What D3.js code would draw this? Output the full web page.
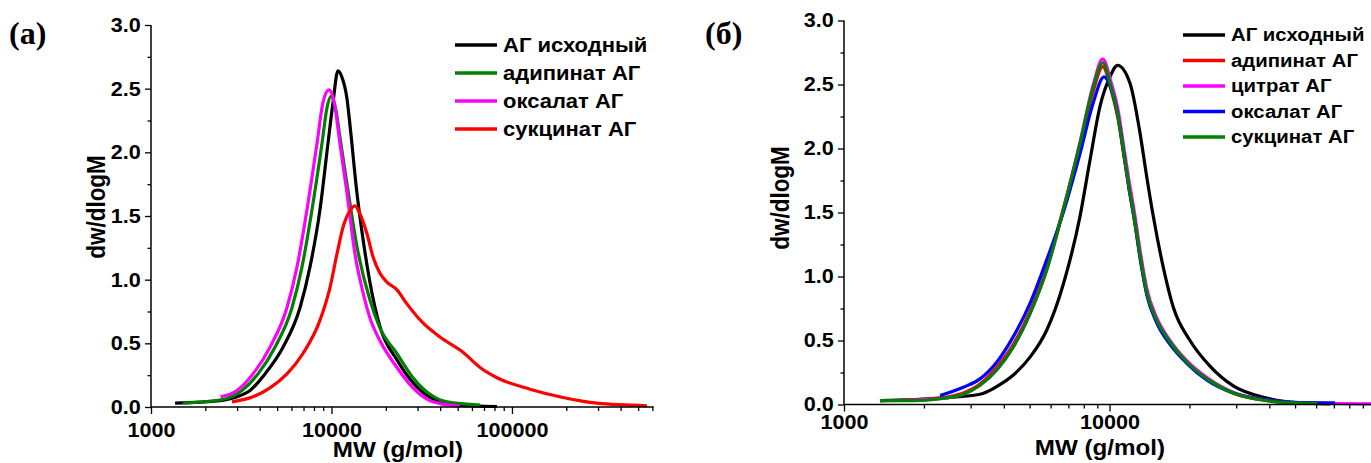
<!DOCTYPE html>
<html><head><meta charset="utf-8">
<script src="https://cdn.jsdelivr.net/npm/d3@7"></script>
<style>body{margin:0;background:#fff}svg{display:block}</style>
</head><body><svg id="c" width="1371" height="463"></svg>
<script>
// ---------- data ----------
const yTicks = [0, 0.5, 1.0, 1.5, 2.0, 2.5, 3.0];
const yMinor = [0.25, 0.75, 1.25, 1.75, 2.25, 2.75];
const xTicksA = [1000, 10000, 100000];
const xTicksB = [1000, 10000];
const legendA = ["АГ исходный", "адипинат АГ", "оксалат АГ", "сукцинат АГ"];
const legendB = ["АГ исходный", "адипинат АГ", "цитрат АГ", "оксалат АГ", "сукцинат АГ"];
const colorsA = ["#000000", "#008000", "#ff00ff", "#ff0000"];
const colorsB = ["#000000", "#ff0000", "#ff00ff", "#0000ff", "#008000"];

// panel (a): [MW, dw/dlogM]
const aInitial = [[1360,0.03],[2410,0.05],[3000,0.08],[3537,0.13],[4281,0.26],[5388,0.47],[6692,0.78],[7601,1.1],[8636,1.55],[9563,2.07],[10193,2.39],[10860,2.64],[11430,2.59],[12190,2.42],[12650,2.22],[13840,1.68],[14950,1.32],[16330,0.98],[18570,0.63],[23060,0.37],[28300,0.19],[35160,0.075],[49580,0.015],[82600,0.004]];
const aAdipinate = [[1500,0.03],[2410,0.055],[3192,0.13],[3915,0.26],[4864,0.47],[6041,0.78],[6864,1.1],[7798,1.55],[8859,2.07],[9441,2.35],[9935,2.44],[10590,2.33],[11140,2.12],[12190,1.75],[13840,1.26],[16330,0.84],[18570,0.62],[23060,0.42],[28300,0.23],[35160,0.1],[43650,0.04],[66530,0.015]];
const aOxalate = [[2430,0.08],[2995,0.13],[3674,0.26],[4564,0.47],[5667,0.78],[6442,1.1],[7316,1.55],[8315,2.07],[8970,2.39],[9687,2.49],[10330,2.4],[11140,2.07],[12190,1.68],[13500,1.2],[14950,0.9],[16330,0.7],[18570,0.52],[23060,0.31],[28300,0.15],[35160,0.05],[51520,0.005]];
const aSuccinate = [[2810,0.04],[3674,0.08],[4564,0.15],[5667,0.26],[6954,0.42],[8630,0.68],[9817,0.94],[10720,1.2],[11580,1.41],[12650,1.54],[13500,1.58],[14350,1.52],[15730,1.36],[16980,1.18],[18570,1.05],[20290,0.98],[23060,0.92],[26180,0.81],[32140,0.66],[39910,0.55],[53550,0.43],[66530,0.31],[82600,0.23],[125900,0.14],[191700,0.075],[295700,0.03],[559500,0.01]];

// panel (б)
const bInitial = [[1366,0.03],[2300,0.05],[3252,0.08],[3759,0.14],[4342,0.23],[5019,0.37],[5800,0.58],[6699,0.94],[7743,1.47],[8445,1.91],[9209,2.33],[10040,2.56],[10720,2.65],[11946,2.51],[13030,2.12],[13810,1.78],[14620,1.47],[15950,1.07],[17390,0.76],[20100,0.5],[23900,0.3],[29260,0.145],[39090,0.05],[52190,0.012],[67500,0.005]];
const bAdipinate = [[1366,0.03],[1824,0.035],[2300,0.05],[2814,0.09],[3252,0.16],[3759,0.29],[4342,0.47],[5019,0.73],[5800,1.07],[6699,1.53],[7743,2.03],[8690,2.45],[9428,2.64],[10130,2.46],[10770,2.23],[11340,1.94],[11840,1.69],[12370,1.46],[13140,1.11],[13840,0.86],[14970,0.66],[16900,0.48],[19580,0.33],[23290,0.2],[29190,0.09],[39190,0.03],[52190,0.01],[60450,0.008]];
const bCitrate = [[1500,0.03],[2300,0.045],[2814,0.08],[3252,0.15],[3759,0.27],[4342,0.45],[5019,0.71],[5800,1.05],[6699,1.52],[7743,2.05],[8690,2.5],[9428,2.70],[10130,2.52],[10770,2.3],[11340,2.0],[11840,1.75],[12370,1.52],[13140,1.16],[13840,0.9],[14970,0.69],[16900,0.5],[19580,0.34],[23290,0.21],[29190,0.095],[39190,0.035],[52190,0.012],[70000,0.008],[96600,0.005]];
const bOxalate = [[2300,0.07],[2814,0.135],[3252,0.2],[3759,0.33],[4342,0.53],[5019,0.79],[5800,1.13],[6699,1.5],[7743,1.96],[8690,2.36],[9535,2.56],[10130,2.47],[10770,2.25],[11340,1.95],[11840,1.69],[12370,1.46],[13140,1.1],[13840,0.85],[14970,0.65],[16900,0.47],[19580,0.32],[23290,0.19],[29190,0.09],[39190,0.035],[52190,0.015],[70700,0.012]];
const bSuccinate = [[1366,0.03],[1824,0.03],[2300,0.045],[2814,0.08],[3252,0.15],[3759,0.27],[4342,0.45],[5019,0.71],[5800,1.05],[6699,1.52],[7743,2.04],[8690,2.48],[9428,2.67],[10130,2.48],[10770,2.25],[11340,1.95],[11840,1.7],[12370,1.47],[13140,1.12],[13840,0.87],[14970,0.67],[16900,0.49],[19580,0.33],[23290,0.2],[29190,0.09],[39190,0.03],[52190,0.01],[60450,0.008]];

const seriesA = [aInitial, aAdipinate, aOxalate, aSuccinate];
const seriesB = [bInitial, bAdipinate, bCitrate, bOxalate, bSuccinate];

// ---------- drawing ----------
const svg = d3.select("#c");
const SANS = "'Liberation Sans', Arial, sans-serif";
const SERIF = "'Liberation Serif', 'Times New Roman', serif";

function minorTicks(domain) {
  const out = [];
  for (let e = 3; e <= 6; e++) for (let m = 2; m <= 9; m++) {
    const v = m * Math.pow(10, e);
    if (v > domain[0] && v <= domain[1]) out.push(v);
  }
  return out;
}

function styleText(sel, size) {
  sel.attr("font-family", SANS).attr("font-weight", "bold")
     .attr("font-size", size).attr("fill", "#000");
}

function panel(cfg) {
  const g = svg.append("g");
  const x = d3.scaleLog().domain(cfg.xDomain).range(cfg.xRange);
  const y = d3.scaleLinear().domain([0, 3]).range(cfg.yRange);
  const x0 = cfg.xRange[0], y0 = cfg.yRange[0];

  // curves
  const line = d3.line().x(d => x(d[0])).y(d => y(d[1])).curve(d3.curveMonotoneX);
  cfg.series.forEach((s, i) => {
    g.append("path").datum(s).attr("d", line)
      .attr("fill", "none").attr("stroke", cfg.colors[i])
      .attr("stroke-width", 3.2).attr("stroke-linejoin", "round").attr("stroke-linecap", "butt");
  });

  // y axis
  const ya = g.append("g").attr("transform", `translate(${x0},0)`)
    .call(d3.axisLeft(y).tickValues(yTicks).tickSize(6).tickPadding(3.5).tickFormat(d3.format(".1f")));
  g.append("g").attr("transform", `translate(${x0},0)`)
    .call(d3.axisLeft(y).tickValues(yMinor).tickSize(3.5).tickFormat(""))
    .select(".domain").remove();
  // x axis
  const xa = g.append("g").attr("transform", `translate(0,${y0})`)
    .call(d3.axisBottom(x).tickValues(cfg.xTicks).tickSize(7).tickPadding(cfg.xPad).tickFormat(d3.format("d")));
  g.append("g").attr("transform", `translate(0,${y0})`)
    .call(d3.axisBottom(x).tickValues(minorTicks(cfg.xDomain)).tickSize(4).tickFormat(""))
    .select(".domain").remove();

  g.selectAll(".domain").attr("stroke", "#000").attr("stroke-width", 1.5);
  g.selectAll(".tick line").attr("stroke", "#000").attr("stroke-width", 1.3);
  [ya, xa].forEach(a => {
    const t = a.selectAll("text");
    styleText(t, 20);
    t.attr("transform", "scale(1.08,1)");
  });
  ya.select(".domain").attr("d", `M0,${cfg.yRange[0]}V${cfg.yRange[1]}`);
  xa.select(".domain").attr("d", `M${cfg.xRange[0]},0H${cfg.xRange[1]}`);

  // axis titles
  const tx = g.append("text").text("MW (g/mol)")
    .attr("text-anchor", "middle")
    .attr("transform", `translate(${cfg.xTitle[0]},${cfg.xTitle[1]}) scale(1.1,1)`);
  styleText(tx, 22);
  const ty = g.append("text").text("dw/dlogM")
    .attr("text-anchor", "middle")
    .attr("transform", `translate(${cfg.yTitle[0]},${cfg.yTitle[1]}) scale(1.15,1) rotate(-90)`);
  styleText(ty, 22.5);

  // panel label
  g.append("text").text(cfg.label)
    .attr("x", cfg.labelPos[0]).attr("y", cfg.labelPos[1])
    .attr("font-family", SERIF).attr("font-weight", "bold").attr("font-size", 32).attr("fill", "#000");

  // legend
  const lg = g.append("g");
  cfg.legend.forEach((name, i) => {
    const yy = cfg.legPos[1] + i * cfg.legStep;
    lg.append("line").attr("x1", cfg.legPos[0]).attr("x2", cfg.legPos[0] + 42)
      .attr("y1", yy).attr("y2", yy).attr("stroke", cfg.colors[i]).attr("stroke-width", 3.5);
    const t = lg.append("text").text(name).attr("dy", "0.35em")
      .attr("transform", `translate(${cfg.legPos[0] + 48},${yy}) scale(${cfg.legSx},1)`);
    styleText(t, cfg.legSize);
  });
}

panel({
  series: seriesA, colors: colorsA, legend: legendA,
  xDomain: [1000, 610000], xRange: [151, 653.7], yRange: [407, 25],
  xTicks: xTicksA, xPad: 8.5,
  xTitle: [398, 457], yTitle: [105, 207],
  label: "(a)", labelPos: [9, 44],
  legPos: [455, 45], legStep: 28, legSize: 20, legSx: 1.1
});
panel({
  series: seriesB, colors: colorsB, legend: legendB,
  xDomain: [1000, 100000], xRange: [844, 1375], yRange: [404.5, 20.5],
  xTicks: xTicksB, xPad: 3,
  xTitle: [1100, 455], yTitle: [789, 198],
  label: "(б)", labelPos: [705, 44],
  legPos: [1183, 35], legStep: 25.5, legSize: 18.5, legSx: 1.1
});
</script></body></html>
